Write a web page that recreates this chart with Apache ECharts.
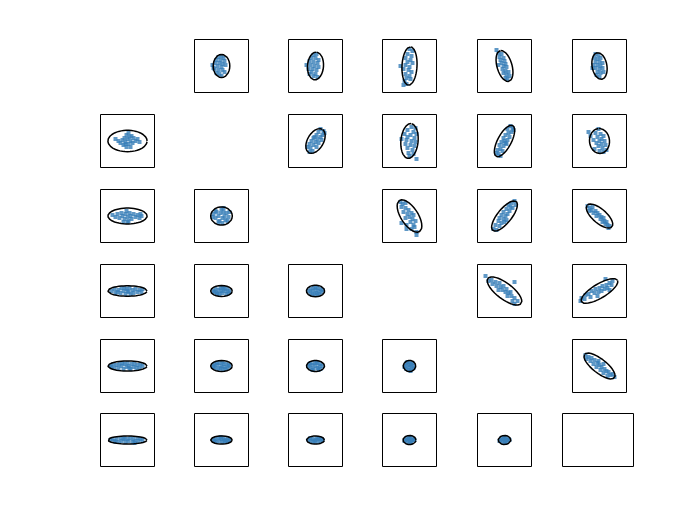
<!DOCTYPE html>
<html><head><meta charset="utf-8">
<script src="https://cdn.jsdelivr.net/npm/echarts@6/dist/echarts.min.js"></script>
<style>html,body{margin:0;padding:0;background:#fff}#c{width:700px;height:525px}</style>
</head><body><div id="c"></div><script>
// Scatter points per panel (row_col), offsets from panel centre
const pts_0_1 = [[-3,9],[0,10],[2,8],[-5,6],[-1,6],[3,5],[-6,3],[-2,3],[1,2],[4,1],[-9,1],[-4,0],[0,-1],[-7,-3],[-3,-4],[1,-4],[-5,-7],[-2,-8],[0,-10],[3,-6],[-8,-2]];
const pts_0_2 = [[-2,11],[1,12],[-4,8],[0,8],[3,6],[-6,5],[-2,4],[2,3],[-9,1],[-5,1],[-1,0],[3,-1],[-7,-3],[-3,-3],[1,-4],[-4,-6],[0,-8],[-2,-10],[2,-11],[-6,-8]];
const pts_0_3 = [[0,17],[3,15],[-2,12],[2,10],[-4,8],[1,6],[-2,4],[3,3],[-9,0],[-4,1],[0,-1],[-6,-3],[-1,-4],[2,-6],[-4,-8],[0,-10],[-3,-12],[1,-13],[-5,-15],[-6,-19],[-3,-18]];
const pts_0_4 = [[-8,16],[-6,13],[-3,12],[-5,9],[-1,8],[-4,6],[0,5],[-3,3],[1,2],[-6,1],[-1,0],[2,-1],[-2,-3],[1,-5],[4,-6],[-1,-7],[2,-9],[5,-10],[3,-13],[1,-12]];
const pts_0_5 = [[-4,12],[-1,11],[-5,8],[-2,7],[1,8],[-4,4],[0,4],[3,3],[-6,1],[-2,1],[1,0],[-4,-2],[0,-3],[3,-2],[-2,-6],[1,-7],[-3,-9],[0,-11],[4,-6],[-7,-2]];
const pts_1_2 = [[5,12],[8,10],[3,9],[7,6],[1,6],[5,4],[-2,3],[2,2],[6,1],[-4,0],[0,-1],[3,-2],[-6,-3],[-2,-4],[1,-6],[-5,-7],[-8,-6],[-3,-10],[-6,-11],[9,8],[-1,4]];
const pts_1_3 = [[2,14],[6,13],[-2,11],[4,9],[7,7],[-5,7],[1,6],[-2,4],[5,3],[-8,2],[-3,1],[2,0],[6,-1],[-4,-3],[1,-4],[5,-5],[-2,-7],[3,-9],[-1,-12],[4,-13],[7,-18],[0,-15]];
const pts_1_4 = [[6,15],[8,13],[3,12],[7,9],[4,8],[1,6],[5,4],[-1,3],[3,1],[0,0],[-3,-1],[2,-3],[-5,-4],[-1,-5],[-4,-8],[-7,-9],[-2,-10],[-6,-13],[-4,-15],[9,11],[-8,-12],[1,-2]];
const pts_1_5 = [[-1,12],[-11,9],[-9,5],[-4,8],[1,7],[4,5],[-2,4],[2,2],[-6,1],[0,0],[5,0],[-3,-2],[2,-3],[6,-4],[-1,-5],[3,-7],[-5,-8],[0,-10],[4,-11],[7,-9]];
const pts_2_3 = [[-9,14],[-7,12],[-4,13],[-8,9],[-4,8],[-1,6],[-6,4],[-2,2],[2,3],[4,1],[0,-1],[-4,-2],[3,-3],[6,-5],[1,-6],[-8,-7],[-3,-9],[4,-9],[-3,-13],[2,-13],[7,-16],[7,-19],[5,-11]];
const pts_2_4 = [[10,15],[7,13],[11,11],[4,11],[8,8],[2,7],[5,5],[-1,4],[3,2],[-3,1],[1,0],[-5,-2],[-1,-3],[2,-4],[-6,-5],[-3,-7],[-9,-9],[-5,-10],[-11,-13],[-8,-14],[0,-6],[6,9]];
const pts_2_5 = [[-12,10],[-10,8],[-7,9],[-8,6],[-4,5],[-6,3],[-2,3],[0,1],[-3,0],[2,-1],[4,-2],[1,-3],[5,-5],[7,-6],[3,-6],[8,-9],[10,-10],[6,-8],[-10,5],[9,-12]];
const pts_3_4 = [[-19,15],[-16,10],[-13,11],[-12,7],[-9,9],[-8,5],[-5,8],[-4,4],[-1,5],[-2,1],[2,2],[10,9],[1,-1],[4,-2],[6,-1],[3,-5],[7,-5],[10,-7],[8,-10],[10,-13],[13,-10],[-6,1]];
const pts_3_5 = [[-19,-10],[-18,-7],[-14,-4],[-15,-8],[-11,-3],[-9,-6],[-8,0],[-5,-2],[-4,2],[-1,-1],[0,3],[2,0],[3,5],[5,2],[7,6],[8,3],[10,8],[12,6],[6,12],[13,10],[-2,-5],[10,1]];
const pts_4_5 = [[-14,11],[-11,9],[-13,7],[-8,8],[-9,5],[-5,6],[-6,2],[-2,3],[-3,-1],[0,1],[2,-1],[4,2],[1,-4],[5,-3],[7,-5],[4,-7],[9,-6],[11,-9],[13,-8],[15,-11],[8,-10],[-1,5]];
const pts_1_0 = [[-12,2],[-9,0],[-7,-2],[-5,1],[-4,-4],[-3,3],[-2,-1],[-1,6],[0,2],[1,-3],[1,8],[2,4],[3,0],[4,5],[5,-2],[6,3],[8,0],[-1,-6],[3,-6],[10,2],[12,-1],[-2,-3]];
const pts_2_0 = [[-15,1],[-12,-1],[-10,2],[-8,-2],[-6,3],[-5,0],[-3,-3],[-2,2],[-1,5],[0,-1],[1,-5],[2,3],[3,0],[4,-3],[6,2],[8,-1],[10,1],[12,-2],[13,2],[-4,-6],[0,-6],[14,0]];
const pts_2_1 = [[-8,2],[-6,-2],[-5,4],[-3,0],[-2,-5],[-1,3],[0,7],[1,-2],[2,4],[3,0],[4,-4],[5,3],[7,-1],[8,4],[-3,-6],[1,-7],[-6,5],[6,-5],[2,8],[-9,-1]];
const pts_3_0 = [[-16,0],[-13,2],[-12,-2],[-9,1],[-7,-2],[-6,3],[-4,0],[-2,-3],[-1,2],[1,-1],[2,3],[3,-3],[5,1],[6,-2],[8,2],[10,-1],[12,1],[14,-1],[15,2],[-10,-1],[0,0],[-3,3]];
const pts_3_1 = [[-8,0],[-6,2],[-5,-2],[-3,1],[-2,-3],[-1,3],[0,0],[1,-2],[2,2],[4,0],[5,-3],[6,2],[8,0],[-4,-3],[3,3],[7,-2],[-7,-1],[1,4]];
const pts_3_2 = [[-7,0],[-5,2],[-5,-2],[-3,0],[-2,3],[-1,-3],[0,1],[1,-2],[2,3],[3,0],[4,-3],[5,2],[6,-1],[-3,-4],[2,-4],[7,1],[0,4]];
const pts_4_0 = [[-17,0],[-14,2],[-13,-2],[-11,1],[-9,-2],[-8,2],[-6,0],[-4,-3],[-3,2],[-1,-1],[0,3],[1,0],[3,-3],[4,2],[6,-1],[7,2],[9,-2],[10,1],[12,-2],[13,2],[15,0],[-16,-1],[-5,3],[2,-2]];
const pts_4_1 = [[-8,0],[-7,2],[-6,-2],[-4,1],[-3,-3],[-2,3],[0,0],[1,-3],[2,2],[3,-1],[5,2],[6,-2],[8,0],[-5,3],[4,-3],[7,1],[-1,-2],[1,4],[-8,-1]];
const pts_4_2 = [[-7,0],[-6,2],[-5,-2],[-3,1],[-2,-3],[-1,3],[0,0],[2,-2],[2,3],[4,0],[5,-3],[5,2],[7,0],[-3,-4],[1,4],[3,-4],[-5,3]];
const pts_4_3 = [[-4,0],[-3,3],[-3,-3],[-1,1],[-1,-4],[0,4],[0,-1],[2,2],[2,-3],[4,0],[3,3],[4,-2],[-5,-1],[1,-5],[-2,4],[1,1]];
const pts_5_0 = [[-17,0],[-15,1],[-13,-1],[-11,1],[-9,-2],[-7,2],[-6,-1],[-4,1],[-2,-2],[0,1],[1,-1],[3,2],[5,-2],[6,1],[8,-1],[10,2],[11,-1],[13,1],[15,0],[-12,-2],[-3,2],[7,-3]];
const pts_5_1 = [[-8,0],[-6,1],[-5,-2],[-3,2],[-2,-1],[0,1],[1,-2],[2,2],[4,0],[5,-2],[6,2],[8,0],[-7,-1],[3,-1],[-1,3],[7,-1]];
const pts_5_2 = [[-7,0],[-5,2],[-5,-1],[-3,1],[-2,-2],[0,0],[1,2],[2,-2],[3,1],[5,-1],[6,1],[7,0],[-1,-1],[4,2]];
const pts_5_3 = [[-4,0],[-3,2],[-2,-2],[-1,1],[0,-1],[1,2],[2,-2],[3,0],[4,1],[-5,-1],[0,3],[1,-3],[5,0]];
const pts_5_4 = [[-4,0],[-3,2],[-2,-2],[-1,1],[0,-1],[1,2],[2,-2],[3,0],[4,1],[-5,-1],[0,3],[1,-3],[5,0]];

// Ellipse parameters per panel: [semi-axis a, semi-axis b, angle of a in degrees]
const ell_0_1 = [11.6, 8.3, 90];
const ell_0_2 = [13.9, 8.0, 86];
const ell_0_3 = [19.2, 7.5, 87];
const ell_0_4 = [16.0, 7.5, 106];
const ell_0_5 = [13.5, 7.4, 100];
const ell_1_2 = [13.5, 8.0, 60];
const ell_1_3 = [17.5, 8.6, 85];
const ell_1_4 = [17.5, 6.8, 62];
const ell_1_5 = [12.5, 10.0, 95];
const ell_2_3 = [18.5, 8.5, 123];
const ell_2_4 = [18.6, 7.0, 51];
const ell_2_5 = [16.5, 7.0, 139];
const ell_3_4 = [20.8, 8.0, 143];
const ell_3_5 = [21.0, 7.0, 31];
const ell_4_5 = [19.0, 7.0, 142];
const ell_1_0 = [19.6, 10.7, 0];
const ell_2_0 = [19.6, 7.9, 0];
const ell_2_1 = [10.8, 9.1, 0];
const ell_3_0 = [19.6, 5.2, 0];
const ell_3_1 = [10.8, 5.5, 0];
const ell_3_2 = [9.1, 5.8, 0];
const ell_4_0 = [19.6, 5.0, 0];
const ell_4_1 = [10.8, 5.5, 0];
const ell_4_2 = [9.0, 5.5, 0];
const ell_4_3 = [6.2, 5.6, 0];
const ell_5_0 = [19.6, 4.0, 0];
const ell_5_1 = [10.8, 4.1, 0];
const ell_5_2 = [9.0, 4.0, 0];
const ell_5_3 = [6.5, 4.5, 0];
const ell_5_4 = [6.3, 4.5, 0];

const PTS = {pts_0_1,pts_0_2,pts_0_3,pts_0_4,pts_0_5,pts_1_2,pts_1_3,pts_1_4,pts_1_5,pts_2_3,pts_2_4,pts_2_5,pts_3_4,pts_3_5,pts_4_5,
  pts_1_0,pts_2_0,pts_2_1,pts_3_0,pts_3_1,pts_3_2,pts_4_0,pts_4_1,pts_4_2,pts_4_3,pts_5_0,pts_5_1,pts_5_2,pts_5_3,pts_5_4};
const ELL = {ell_0_1,ell_0_2,ell_0_3,ell_0_4,ell_0_5,ell_1_2,ell_1_3,ell_1_4,ell_1_5,ell_2_3,ell_2_4,ell_2_5,ell_3_4,ell_3_5,ell_4_5,
  ell_1_0,ell_2_0,ell_2_1,ell_3_0,ell_3_1,ell_3_2,ell_4_0,ell_4_1,ell_4_2,ell_4_3,ell_5_0,ell_5_1,ell_5_2,ell_5_3,ell_5_4};

// layout
const COL_LEFT = [100, 194, 288, 382, 477, 572];
const ROW_TOP = [39, 114, 189, 264, 339, 413];
const PW = 54, PH = 53;

const grids = [], xAxes = [], yAxes = [], series = [];
function ellipsePath(p) {
  const a = p[0], b = p[1], t = p[2] * Math.PI / 180, out = [];
  for (let i = 0; i <= 96; i++) {
    const u = i / 96 * 2 * Math.PI;
    const ex = a * Math.cos(u), ey = b * Math.sin(u);
    out.push([ex * Math.cos(t) - ey * Math.sin(t), ex * Math.sin(t) + ey * Math.cos(t)]);
  }
  return out;
}
for (let r = 0; r < 6; r++) {
  for (let c = 0; c < 6; c++) {
    if (r === c && r < 5) continue;
    const gi = grids.length;
    let left = COL_LEFT[c], w = PW;
    if (r === 5 && c === 5) { left = 562; w = 71; }
    grids.push({left: left + 0.5, top: ROW_TOP[r] + 0.5, width: w, height: PH, show: true,
      borderColor: '#000', borderWidth: 1, backgroundColor: 'rgba(0,0,0,0)'});
    const hx = w / 2, hy = PH / 2;
    xAxes.push({gridIndex: gi, type: 'value', min: -hx, max: hx, show: false});
    yAxes.push({gridIndex: gi, type: 'value', min: -hy, max: hy, show: false});
    const key = r + '_' + c;
    if (PTS['pts_' + key]) {
      series.push({type: 'scatter', xAxisIndex: gi, yAxisIndex: gi, data: PTS['pts_' + key],
        symbol: 'rect', symbolSize: 4, itemStyle: {color: '#377eb8'}, silent: true, z: 2});
      series.push({type: 'line', xAxisIndex: gi, yAxisIndex: gi, data: ellipsePath(ELL['ell_' + key]),
        showSymbol: false, symbol: 'none', lineStyle: {color: '#000', width: 1.5}, silent: true, z: 3, animation: false});
    }
  }
}
const chart = echarts.init(document.getElementById('c'), null, {renderer: 'canvas'});
chart.setOption({animation: false, backgroundColor: '#fff', grid: grids, xAxis: xAxes, yAxis: yAxes, series: series});
</script></body></html>
